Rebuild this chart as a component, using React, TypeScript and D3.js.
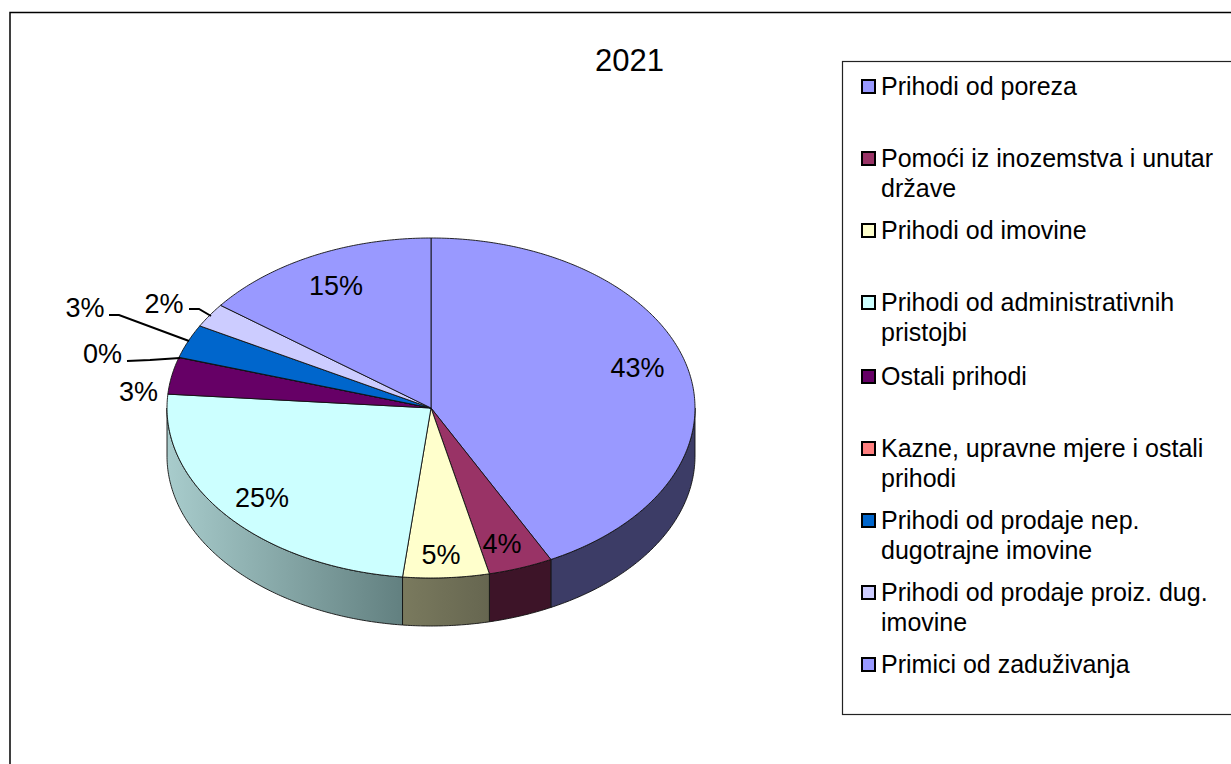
import React from "react";
import * as d3 from "d3";

const WIDTH = 1231;
const HEIGHT = 764;

const categories = [
  "Prihodi od poreza",
  "Pomoći iz inozemstva i unutar države",
  "Prihodi od imovine",
  "Prihodi od administrativnih pristojbi",
  "Ostali prihodi",
  "Kazne, upravne mjere i ostali prihodi",
  "Prihodi od prodaje nep. dugotrajne imovine",
  "Prihodi od prodaje proiz. dug. imovine",
  "Primici od zaduživanja",
];
const legendLines = [
  ["Prihodi od poreza"],
  ["Pomoći iz inozemstva i unutar", "države"],
  ["Prihodi od imovine"],
  ["Prihodi od administrativnih", "pristojbi"],
  ["Ostali prihodi"],
  ["Kazne, upravne mjere i ostali", "prihodi"],
  ["Prihodi od prodaje nep.", "dugotrajne imovine"],
  ["Prihodi od prodaje proiz. dug.", "imovine"],
  ["Primici od zaduživanja"],
];
// Visible slice shares as read from the drawn (perspective-distorted) pie.
const shares = [42.5, 3.95, 5.27, 24.58, 3.5, 0.02, 3.2, 2.3, 14.68];
const labels = ["43%", "4%", "5%", "25%", "3%", "0%", "3%", "2%", "15%"];
const colors = ["#9999ff", "#993366", "#ffffcc", "#ccffff", "#660066", "#ff8080", "#0066cc", "#ccccff", "#9999ff"];
const sideDark = ["#3c3c66", "#3d1428", "#7a7a5e", "#a8cccc", "#2c002c", "#663333", "#002952", "#52526a", "#3c3c66"];
const sideDarkEnd = ["#3c3c66", "#3d1428", "#666650", "#628080", "#2c002c", "#663333", "#002952", "#52526a", "#3c3c66"];
const legendRowY = [86, 158, 230, 302, 376, 448, 520, 592, 664];
const labelPos: [number, number][] = [[637.5, 368], [502, 544], [441, 555], [262, 498], [138.5, 392], [102.5, 354], [85, 308], [164, 304], [336, 286]];
const leaders: [number, number][][] = [
  [], [], [], [], [],
  [[127, 361], [150, 360], [180, 358]],
  [[109, 315], [119, 315], [189, 341]],
  [[189, 309], [199, 309], [211, 316]],
  [],
];

const cx = 431, cy = 408, rx = 264, ry = 170, depth = 48;

export default function App() {
  const pie = d3.pie<number>().sort(null).value((d) => d);
  const arcs = pie(shares);
  const radial = d3.scaleLinear().domain([0, 1]).range([0, 1]);
  const px = (a: number) => cx + rx * radial(Math.sin(a));
  const py = (a: number, dy = 0) => cy - ry * radial(Math.cos(a)) + dy;

  const curve = (a0: number, a1: number, dy = 0): [number, number][] => {
    const n = Math.max(2, Math.ceil(Math.abs(a1 - a0) / 0.01));
    return d3.range(n + 1).map((i) => {
      const a = a0 + ((a1 - a0) * i) / n;
      return [px(a), py(a, dy)] as [number, number];
    });
  };
  const line = d3.line();

  const topPath = (a0: number, a1: number) => line([[cx, cy], ...curve(a0, a1)])! + "Z";
  const sidePath = (a0: number, a1: number) =>
    line([...curve(a0, a1), ...curve(a1, a0, depth)])! + "Z";

  const halfPi = Math.PI / 2;
  const sides = arcs
    .map((d, i) => ({ i, a0: Math.max(d.startAngle, halfPi), a1: Math.min(d.endAngle, 3 * halfPi) }))
    .filter((d) => d.a1 > d.a0);

  return (
    <svg
      width={WIDTH}
      height={HEIGHT}
      style={{ position: "absolute", left: 0, top: 0, background: "#fff" }}
      fontFamily="'Liberation Sans', Arial, sans-serif"
    >
      <defs>
        {sides.map((s) => (
          <linearGradient
            key={s.i}
            id={`side-${s.i}`}
            gradientUnits="userSpaceOnUse"
            x1={px(s.a1)}
            x2={px(s.a0)}
            y1={0}
            y2={0}
          >
            <stop offset="0" stopColor={sideDark[s.i]} />
            <stop offset="1" stopColor={sideDarkEnd[s.i]} />
          </linearGradient>
        ))}
      </defs>
      <rect x={10} y={12.5} width={WIDTH} height={HEIGHT} fill="#fff" stroke="#000" strokeWidth={1.5} />
      <text x={629.5} y={71} fontSize={31} textAnchor="middle" fill="#000">2021</text>

      {sides.map((s) => (
        <path key={s.i} d={sidePath(s.a0, s.a1)} fill={`url(#side-${s.i})`} stroke="#111" strokeWidth={0.9} />
      ))}
      {arcs.map((d, i) => (
        <path key={i} d={topPath(d.startAngle, d.endAngle)} fill={colors[i]} stroke="#111" strokeWidth={0.9} strokeLinejoin="round" />
      ))}

      {leaders.map((pts, i) =>
        pts.length ? <path key={i} d={line(pts)!} fill="none" stroke="#000" strokeWidth={2} /> : null
      )}
      {labels.map((t, i) => (
        <text key={i} x={labelPos[i][0]} y={labelPos[i][1]} fontSize={27} textAnchor="middle" dominantBaseline="central" fill="#000">
          {t}
        </text>
      ))}

      <rect x={842.5} y={61.5} width={WIDTH} height={653} fill="#fff" stroke="#222" strokeWidth={1.2} />
      {categories.map((c, i) => (
        <g key={c}>
          <rect x={862} y={legendRowY[i] - 6} width={13} height={13} fill={colors[i]} stroke="#000" strokeWidth={2} />
          <text fontSize={25} fill="#000">
            {legendLines[i].map((l, j) => (
              <tspan key={j} x={881} y={legendRowY[i] + 8.5 + j * 30}>{l}</tspan>
            ))}
          </text>
        </g>
      ))}
    </svg>
  );
}
